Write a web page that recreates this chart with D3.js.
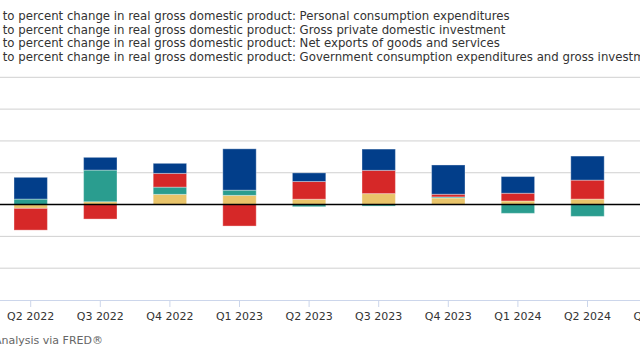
<!DOCTYPE html>
<html>
<head>
<meta charset="utf-8">
<script src="https://cdn.jsdelivr.net/npm/d3@7"></script>
<style>
  html, body { margin: 0; padding: 0; background: #fff; overflow: hidden; }
  svg { display: block; font-family: "DejaVu Sans", Verdana, sans-serif; }
</style>
</head>
<body>
<svg id="chart" width="640" height="360"></svg>
<script>
// ---- data ----
const quarters = ["Q2 2022","Q3 2022","Q4 2022","Q1 2023","Q2 2023","Q3 2023","Q4 2023","Q1 2024","Q2 2024"];
const tickLabels = ["Q2 2022","Q3 2022","Q4 2022","Q1 2023","Q2 2023","Q3 2023","Q4 2023","Q1 2024","Q2 2024","Q3 2024"];
const pce        = [1.71, 1.00, 0.79, 3.25, 0.68, 1.67, 2.30, 1.31, 1.89];
const investment = [-1.71, -1.14, 1.08, -1.69, 1.39, 1.83, 0.21, 0.61, 1.49];
const netExports = [0.43, 2.49, 0.57, 0.41, -0.17, -0.12, 0.08, -0.69, -0.93];
const government = [-0.30, 0.22, 0.80, 0.72, 0.42, 0.86, 0.52, 0.28, 0.43];
const yTicks = [-7.5, -5, -2.5, 0, 2.5, 5, 7.5, 10];
const seriesNames = [
  "Contributions to percent change in real gross domestic product: Personal consumption expenditures",
  "Contributions to percent change in real gross domestic product: Gross private domestic investment",
  "Contributions to percent change in real gross domestic product: Net exports of goods and services",
  "Contributions to percent change in real gross domestic product: Government consumption expenditures and gross investment"
];
const sourceText = "Source: U.S. Bureau of Economic Analysis via FRED®";

const colors = { pce: "#023e8a", investment: "#d62828", netExports: "#2a9d8f", government: "#e9c46a" };
const legendColors = [colors.pce, colors.investment, colors.netExports, colors.government];

const rows = quarters.map((q, i) => ({
  q, pce: pce[i], investment: investment[i], netExports: netExports[i], government: government[i]
}));

const svg = d3.select("#chart");

// ---- scales ----
const step = 69.6, firstCenter = 30.7;
const x = d3.scaleBand()
  .domain(tickLabels)
  .range([firstCenter - step / 2, firstCenter - step / 2 + step * tickLabels.length])
  .paddingInner(0.52).paddingOuter(0.26);
const y = d3.scaleLinear().domain([-7.5, 10]).range([300, 77.3]);

// ---- gridlines ----
svg.append("g").selectAll("line")
  .data(yTicks.filter(t => t !== 0 && t !== -7.5))
  .join("line")
  .attr("x1", 0).attr("x2", 640)
  .attr("y1", d => y(d)).attr("y2", d => y(d))
  .attr("stroke", "#d0d0d0").attr("stroke-width", 1);

// ---- bars ----
const keys = ["government", "netExports", "investment", "pce"];
const stacked = d3.stack().keys(keys).offset(d3.stackOffsetDiverging)(rows);
svg.append("g").selectAll("g")
  .data(stacked).join("g")
  .attr("fill", d => colors[d.key])
  .selectAll("rect")
  .data(d => d).join("rect")
  .attr("x", d => x(d.data.q))
  .attr("width", x.bandwidth())
  .attr("y", d => y(Math.max(d[0], d[1])))
  .attr("height", d => Math.abs(y(d[0]) - y(d[1])))
  .attr("stroke", "#ffffff").attr("stroke-opacity", 0.35).attr("stroke-width", 1);

// ---- zero line ----
svg.append("line")
  .attr("x1", 0).attr("x2", 640)
  .attr("y1", y(0)).attr("y2", y(0))
  .attr("stroke", "#000").attr("stroke-width", 1.5);

// ---- x axis ----
const xAxis = d3.axisBottom(x).tickSize(7).tickPadding(5).tickSizeOuter(0);
const gx = svg.append("g").attr("transform", `translate(0,${y(-7.5)})`).call(xAxis);
gx.select(".domain").attr("stroke", "#ccd6eb").attr("d", "M-10,0.5H650");
gx.selectAll(".tick line").attr("stroke", "#ccd6eb");
gx.selectAll(".tick text").attr("fill", "#333").attr("font-size", 11)
  .attr("font-family", "DejaVu Sans, Verdana, sans-serif");

// ---- legend / title lines (left part cropped) ----
const leg = svg.append("g").attr("fill", "#333");
// fit font so the visible part of line 1 ("to percent ... expenditures") spans ~511px
const probeFull = leg.append("text").attr("font-size", 11).text(seriesNames[0]);
const probePre = leg.append("text").attr("font-size", 11).text("Contributions ");
const visW = probeFull.node().getComputedTextLength() - probePre.node().getComputedTextLength();
probeFull.remove(); probePre.remove();
const fs = 11 * 511 / visW;
leg.attr("font-size", fs);
const probe = leg.append("text").text("Contributions ");
const prefixW = probe.node().getComputedTextLength();
probe.remove();
seriesNames.forEach((name, i) => {
  const by = 20 + i * 13.6;
  leg.append("line")
    .attr("x1", -prefixW - 28).attr("x2", -prefixW - 8)
    .attr("y1", by - 4).attr("y2", by - 4)
    .attr("stroke", legendColors[i]).attr("stroke-width", 3);
  leg.append("text").attr("x", -prefixW - 1).attr("y", by).text(name);
});

// ---- source ----
svg.append("text")
  .attr("x", 103).attr("y", 344)
  .attr("text-anchor", "end")
  .attr("font-size", 11).attr("fill", "#666")
  .text(sourceText);
</script>
</body>
</html>
